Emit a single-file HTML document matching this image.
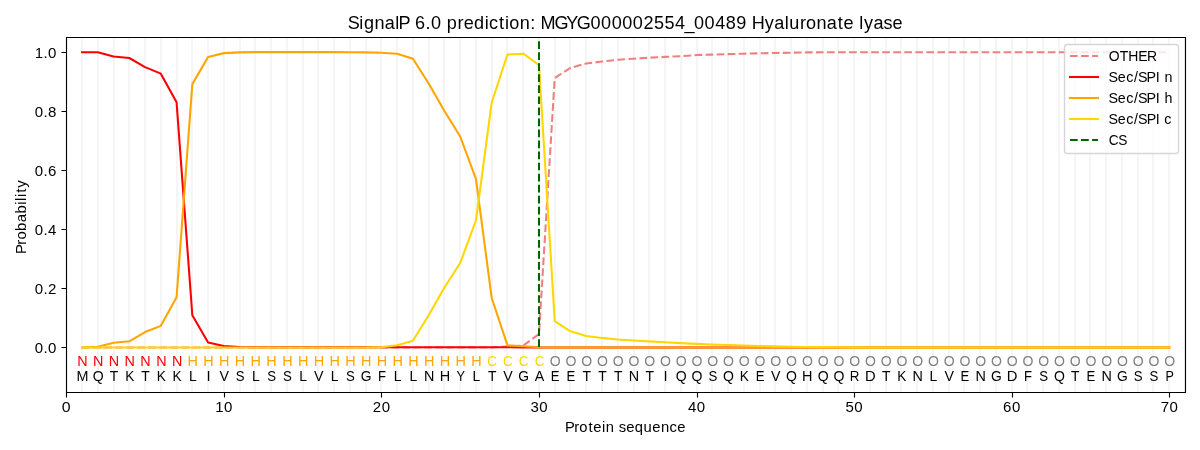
<!DOCTYPE html><html><head><meta charset="utf-8"><title>SignalP 6.0 prediction</title><style>html,body{margin:0;padding:0;background:#fff;overflow:hidden}svg{display:block;will-change:transform}text{font-family:"Liberation Sans",sans-serif}</style></head><body>
<svg width="1200" height="450" viewBox="0 0 1200 450">
<defs><clipPath id="c"><rect x="66.28" y="37.33" width="1118.72" height="354.39"/></clipPath></defs>
<rect width="1200" height="450" fill="#fff"/>
<path d="M66 391.72V37.33M82 391.72V37.33M98 391.72V37.33M114 391.72V37.33M129 391.72V37.33M145 391.72V37.33M161 391.72V37.33M177 391.72V37.33M192 391.72V37.33M208 391.72V37.33M224 391.72V37.33M240 391.72V37.33M255 391.72V37.33M271 391.72V37.33M287 391.72V37.33M303 391.72V37.33M318 391.72V37.33M334 391.72V37.33M350 391.72V37.33M366 391.72V37.33M381 391.72V37.33M397 391.72V37.33M413 391.72V37.33M429 391.72V37.33M444 391.72V37.33M460 391.72V37.33M476 391.72V37.33M492 391.72V37.33M507 391.72V37.33M523 391.72V37.33M539 391.72V37.33M555 391.72V37.33M570 391.72V37.33M586 391.72V37.33M602 391.72V37.33M618 391.72V37.33M634 391.72V37.33M649 391.72V37.33M665 391.72V37.33M681 391.72V37.33M697 391.72V37.33M712 391.72V37.33M728 391.72V37.33M744 391.72V37.33M760 391.72V37.33M775 391.72V37.33M791 391.72V37.33M807 391.72V37.33M823 391.72V37.33M838 391.72V37.33M854 391.72V37.33M870 391.72V37.33M886 391.72V37.33M901 391.72V37.33M917 391.72V37.33M933 391.72V37.33M949 391.72V37.33M964 391.72V37.33M980 391.72V37.33M996 391.72V37.33M1012 391.72V37.33M1027 391.72V37.33M1043 391.72V37.33M1059 391.72V37.33M1075 391.72V37.33M1090 391.72V37.33M1106 391.72V37.33M1122 391.72V37.33M1138 391.72V37.33M1153 391.72V37.33M1169 391.72V37.33M1185 391.72V37.33" clip-path="url(#c)" fill="none" stroke="#f5f5f5" stroke-width="2.08"/>
<path d="M66.5 392.5V397.5M224.5 392.5V397.5M381.5 392.5V397.5M539.5 392.5V397.5M697.5 392.5V397.5M854.5 392.5V397.5M1012.5 392.5V397.5M1169.5 392.5V397.5M66.5 347.5H61.5M66.5 288.5H61.5M66.5 229.5H61.5M66.5 170.5H61.5M66.5 111.5H61.5M66.5 52.5H61.5" stroke="#000" stroke-width="1.11"/>
<text x="66.28" y="412.44" textLength="8.84" lengthAdjust="spacingAndGlyphs" style="font-size:14.17px;text-anchor:middle">0</text>
<text x="-8.1 0.22" y="0" transform="translate(223.84 412.44) scale(1.0602 1)" style="font-size:14.17px">10</text>
<text x="-8.1 0.22" y="0" transform="translate(381.41 412.44) scale(1.0602 1)" style="font-size:14.17px">20</text>
<text x="-8.1 0.22" y="0" transform="translate(538.98 412.44) scale(1.0602 1)" style="font-size:14.17px">30</text>
<text x="-8.1 0.22" y="0" transform="translate(696.54 412.44) scale(1.0602 1)" style="font-size:14.17px">40</text>
<text x="-8.1 0.22" y="0" transform="translate(854.11 412.44) scale(1.0602 1)" style="font-size:14.17px">50</text>
<text x="-8.1 0.22" y="0" transform="translate(1011.68 412.44) scale(1.0602 1)" style="font-size:14.17px">60</text>
<text x="-8.1 0.22" y="0" transform="translate(1169.24 412.44) scale(1.0602 1)" style="font-size:14.17px">70</text>
<text x="-58.17 -49.3 -44.33 -35.68 -30.96 -22.66 -18.97 -10.67 -6.67 0.48 8.79 17.22 25.52 33.82 42.08 49.43" y="0" transform="translate(625.64 432) scale(1.0440 1)" style="font-size:14.17px">Protein sequence</text>
<text x="-20.59 -12.37 -8.1" y="0" transform="translate(56.56 352.92) scale(1.0602 1)" style="font-size:14.17px">0.0</text>
<text x="-20.59 -12.37 -8.1" y="0" transform="translate(56.56 293.86) scale(1.0602 1)" style="font-size:14.17px">0.2</text>
<text x="-20.59 -12.37 -8.1" y="0" transform="translate(56.56 234.79) scale(1.0602 1)" style="font-size:14.17px">0.4</text>
<text x="-20.59 -12.37 -8.1" y="0" transform="translate(56.56 175.73) scale(1.0602 1)" style="font-size:14.17px">0.6</text>
<text x="-20.59 -12.37 -8.1" y="0" transform="translate(56.56 116.66) scale(1.0602 1)" style="font-size:14.17px">0.8</text>
<text x="-20.59 -12.37 -8.1" y="0" transform="translate(56.56 57.6) scale(1.0602 1)" style="font-size:14.17px">1.0</text>
<text x="-35.55 -26.75 -21.84 -13.64 -5.44 2.77 11.14 14.79 18.45 22.46 27.36" y="0" transform="translate(26 216.5) rotate(-90) scale(1.0548 1)" style="font-size:14.17px">Probability</text>
<g clip-path="url(#c)" fill="none" stroke-width="2.08" stroke-linejoin="round">
<path d="M82.03 347.42 L97.79 347.42 L113.55 347.42 L129.3 347.42 L145.06 347.42 L160.82 347.42 L176.57 347.42 L192.33 347.42 L208.09 347.42 L223.84 347.42 L239.6 347.42 L255.36 347.42 L271.11 347.42 L286.87 347.42 L302.63 347.42 L318.38 347.42 L334.14 347.42 L349.9 347.42 L365.65 347.42 L381.41 347.42 L397.17 347.42 L412.92 347.42 L428.68 347.42 L444.44 347.42 L460.19 347.42 L475.95 347.42 L491.71 347.42 L507.46 346.54 L523.22 345.65 L538.98 334.13 L554.73 78 L570.49 67.87 L586.25 63.5 L602 61.55 L617.76 59.81 L633.52 58.71 L649.27 57.71 L665.03 56.91 L680.79 56.2 L696.54 55.05 L712.3 54.61 L728.06 54.11 L743.81 53.69 L759.57 53.31 L775.33 52.99 L791.08 52.69 L806.84 52.39 L822.6 52.31 L838.35 52.25 L854.11 52.22 L869.87 52.19 L885.62 52.19 L901.38 52.19 L917.14 52.19 L932.89 52.19 L948.65 52.19 L964.41 52.19 L980.16 52.19 L995.92 52.19 L1011.68 52.19 L1027.43 52.19 L1043.19 52.19 L1058.95 52.19 L1074.7 52.19 L1090.46 52.19 L1106.22 52.19 L1121.97 52.19 L1137.73 52.19 L1153.49 52.19 L1169.24 52.19" stroke="#f08080" stroke-dasharray="7.71,3.33"/>
<path d="M82.03 52.19 L97.79 52.28 L113.55 56.53 L129.3 58.01 L145.06 67.16 L160.82 73.66 L176.57 102.3 L192.33 315.23 L208.09 342.4 L223.84 345.95 L239.6 346.98 L255.36 347.31 L271.11 347.31 L286.87 347.31 L302.63 347.31 L318.38 347.31 L334.14 347.31 L349.9 347.31 L365.65 347.31 L381.41 347.31 L397.17 347.31 L412.92 347.31 L428.68 347.31 L444.44 347.31 L460.19 347.31 L475.95 347.31 L491.71 347.31 L507.46 347.31 L523.22 347.36 L538.98 347.42 L554.73 347.42 L570.49 347.42 L586.25 347.42 L602 347.42 L617.76 347.42 L633.52 347.42 L649.27 347.42 L665.03 347.42 L680.79 347.42 L696.54 347.42 L712.3 347.42 L728.06 347.42 L743.81 347.42 L759.57 347.42 L775.33 347.42 L791.08 347.42 L806.84 347.42 L822.6 347.42 L838.35 347.42 L854.11 347.42 L869.87 347.42 L885.62 347.42 L901.38 347.42 L917.14 347.42 L932.89 347.42 L948.65 347.42 L964.41 347.42 L980.16 347.42 L995.92 347.42 L1011.68 347.42 L1027.43 347.42 L1043.19 347.42 L1058.95 347.42 L1074.7 347.42 L1090.46 347.42 L1106.22 347.42 L1121.97 347.42 L1137.73 347.42 L1153.49 347.42 L1169.24 347.42" stroke="#f00" stroke-linecap="square"/>
<path d="M82.03 347.42 L97.79 346.83 L113.55 342.79 L129.3 341.31 L145.06 332.07 L160.82 325.86 L176.57 297.22 L192.33 84.11 L208.09 56.91 L223.84 53.13 L239.6 52.39 L255.36 52.1 L271.11 52.1 L286.87 52.1 L302.63 52.1 L318.38 52.1 L334.14 52.16 L349.9 52.31 L365.65 52.39 L381.41 52.69 L397.17 53.69 L412.92 58.8 L428.68 83.49 L444.44 111.02 L460.19 136.5 L475.95 178.79 L491.71 298.02 L507.46 345.36 L523.22 346.24 L538.98 347.28 L554.73 347.42 L570.49 347.42 L586.25 347.42 L602 347.42 L617.76 347.42 L633.52 347.42 L649.27 347.42 L665.03 347.42 L680.79 347.42 L696.54 347.42 L712.3 347.42 L728.06 347.42 L743.81 347.42 L759.57 347.42 L775.33 347.42 L791.08 347.42 L806.84 347.42 L822.6 347.42 L838.35 347.42 L854.11 347.42 L869.87 347.42 L885.62 347.42 L901.38 347.42 L917.14 347.42 L932.89 347.42 L948.65 347.42 L964.41 347.42 L980.16 347.42 L995.92 347.42 L1011.68 347.42 L1027.43 347.42 L1043.19 347.42 L1058.95 347.42 L1074.7 347.42 L1090.46 347.42 L1106.22 347.42 L1121.97 347.42 L1137.73 347.42 L1153.49 347.42 L1169.24 347.42" stroke="#ffa500" stroke-linecap="square"/>
<path d="M82.03 347.42 L97.79 347.42 L113.55 347.42 L129.3 347.42 L145.06 347.42 L160.82 347.42 L176.57 347.42 L192.33 347.42 L208.09 347.42 L223.84 347.42 L239.6 347.42 L255.36 347.42 L271.11 347.42 L286.87 347.42 L302.63 347.42 L318.38 347.42 L334.14 347.42 L349.9 347.42 L365.65 347.42 L381.41 347.13 L397.17 345.33 L412.92 340.69 L428.68 315.32 L444.44 287.5 L460.19 263.02 L475.95 220.49 L491.71 102.51 L507.46 54.49 L523.22 53.69 L538.98 65.01 L554.73 321.02 L570.49 331.3 L586.25 335.91 L602 337.91 L617.76 339.42 L633.52 340.51 L649.27 341.4 L665.03 342.31 L680.79 343.11 L696.54 343.91 L712.3 344.53 L728.06 345.06 L743.81 345.56 L759.57 346.01 L775.33 346.36 L791.08 346.69 L806.84 346.92 L822.6 347.13 L838.35 347.25 L854.11 347.34 L869.87 347.42 L885.62 347.42 L901.38 347.42 L917.14 347.42 L932.89 347.42 L948.65 347.42 L964.41 347.42 L980.16 347.42 L995.92 347.42 L1011.68 347.42 L1027.43 347.42 L1043.19 347.42 L1058.95 347.42 L1074.7 347.42 L1090.46 347.42 L1106.22 347.42 L1121.97 347.42 L1137.73 347.42 L1153.49 347.42 L1169.24 347.42" stroke="#ffd700" stroke-linecap="square"/>
<path d="M539 347V22.57" stroke="#006400" stroke-dasharray="7.71,3.33"/>
</g>
<path d="M66.5 392.5V37.5M1185.5 392.5V37.5M66.5 392.5H1185.5M66.5 37.5H1185.5" fill="none" stroke="#000" stroke-width="1.11" stroke-linecap="square"/>
<text x="82.53" y="380.96" textLength="11.98" lengthAdjust="spacingAndGlyphs" style="font-size:14.17px;text-anchor:middle">M</text>
<text x="82.53" y="366.19" fill="#ff0000" textLength="10.39" lengthAdjust="spacingAndGlyphs" style="font-size:14.17px;text-anchor:middle">N</text>
<text x="98.29" y="380.96" textLength="10.93" lengthAdjust="spacingAndGlyphs" style="font-size:14.17px;text-anchor:middle">Q</text>
<text x="98.29" y="366.19" fill="#ff0000" textLength="10.39" lengthAdjust="spacingAndGlyphs" style="font-size:14.17px;text-anchor:middle">N</text>
<text x="114.05" y="380.96" textLength="8.48" lengthAdjust="spacingAndGlyphs" style="font-size:14.17px;text-anchor:middle">T</text>
<text x="114.05" y="366.19" fill="#ff0000" textLength="10.39" lengthAdjust="spacingAndGlyphs" style="font-size:14.17px;text-anchor:middle">N</text>
<text x="129.8" y="380.96" textLength="9.11" lengthAdjust="spacingAndGlyphs" style="font-size:14.17px;text-anchor:middle">K</text>
<text x="129.8" y="366.19" fill="#ff0000" textLength="10.39" lengthAdjust="spacingAndGlyphs" style="font-size:14.17px;text-anchor:middle">N</text>
<text x="145.56" y="380.96" textLength="8.48" lengthAdjust="spacingAndGlyphs" style="font-size:14.17px;text-anchor:middle">T</text>
<text x="145.56" y="366.19" fill="#ff0000" textLength="10.39" lengthAdjust="spacingAndGlyphs" style="font-size:14.17px;text-anchor:middle">N</text>
<text x="161.32" y="380.96" textLength="9.11" lengthAdjust="spacingAndGlyphs" style="font-size:14.17px;text-anchor:middle">K</text>
<text x="161.32" y="366.19" fill="#ff0000" textLength="10.39" lengthAdjust="spacingAndGlyphs" style="font-size:14.17px;text-anchor:middle">N</text>
<text x="177.07" y="380.96" textLength="9.11" lengthAdjust="spacingAndGlyphs" style="font-size:14.17px;text-anchor:middle">K</text>
<text x="177.07" y="366.19" fill="#ff0000" textLength="10.39" lengthAdjust="spacingAndGlyphs" style="font-size:14.17px;text-anchor:middle">N</text>
<text x="192.83" y="380.96" textLength="7.74" lengthAdjust="spacingAndGlyphs" style="font-size:14.17px;text-anchor:middle">L</text>
<text x="192.83" y="366.19" fill="#ffa500" textLength="10.44" lengthAdjust="spacingAndGlyphs" style="font-size:14.17px;text-anchor:middle">H</text>
<text x="208.59" y="380.96" textLength="4.1" lengthAdjust="spacingAndGlyphs" style="font-size:14.17px;text-anchor:middle">I</text>
<text x="208.59" y="366.19" fill="#ffa500" textLength="10.44" lengthAdjust="spacingAndGlyphs" style="font-size:14.17px;text-anchor:middle">H</text>
<text x="224.34" y="380.96" textLength="9.5" lengthAdjust="spacingAndGlyphs" style="font-size:14.17px;text-anchor:middle">V</text>
<text x="224.34" y="366.19" fill="#ffa500" textLength="10.44" lengthAdjust="spacingAndGlyphs" style="font-size:14.17px;text-anchor:middle">H</text>
<text x="240.1" y="380.96" textLength="8.82" lengthAdjust="spacingAndGlyphs" style="font-size:14.17px;text-anchor:middle">S</text>
<text x="240.1" y="366.19" fill="#ffa500" textLength="10.44" lengthAdjust="spacingAndGlyphs" style="font-size:14.17px;text-anchor:middle">H</text>
<text x="255.86" y="380.96" textLength="7.74" lengthAdjust="spacingAndGlyphs" style="font-size:14.17px;text-anchor:middle">L</text>
<text x="255.86" y="366.19" fill="#ffa500" textLength="10.44" lengthAdjust="spacingAndGlyphs" style="font-size:14.17px;text-anchor:middle">H</text>
<text x="271.61" y="380.96" textLength="8.82" lengthAdjust="spacingAndGlyphs" style="font-size:14.17px;text-anchor:middle">S</text>
<text x="271.61" y="366.19" fill="#ffa500" textLength="10.44" lengthAdjust="spacingAndGlyphs" style="font-size:14.17px;text-anchor:middle">H</text>
<text x="287.37" y="380.96" textLength="8.82" lengthAdjust="spacingAndGlyphs" style="font-size:14.17px;text-anchor:middle">S</text>
<text x="287.37" y="366.19" fill="#ffa500" textLength="10.44" lengthAdjust="spacingAndGlyphs" style="font-size:14.17px;text-anchor:middle">H</text>
<text x="303.13" y="380.96" textLength="7.74" lengthAdjust="spacingAndGlyphs" style="font-size:14.17px;text-anchor:middle">L</text>
<text x="303.13" y="366.19" fill="#ffa500" textLength="10.44" lengthAdjust="spacingAndGlyphs" style="font-size:14.17px;text-anchor:middle">H</text>
<text x="318.88" y="380.96" textLength="9.5" lengthAdjust="spacingAndGlyphs" style="font-size:14.17px;text-anchor:middle">V</text>
<text x="318.88" y="366.19" fill="#ffa500" textLength="10.44" lengthAdjust="spacingAndGlyphs" style="font-size:14.17px;text-anchor:middle">H</text>
<text x="334.64" y="380.96" textLength="7.74" lengthAdjust="spacingAndGlyphs" style="font-size:14.17px;text-anchor:middle">L</text>
<text x="334.64" y="366.19" fill="#ffa500" textLength="10.44" lengthAdjust="spacingAndGlyphs" style="font-size:14.17px;text-anchor:middle">H</text>
<text x="350.4" y="380.96" textLength="8.82" lengthAdjust="spacingAndGlyphs" style="font-size:14.17px;text-anchor:middle">S</text>
<text x="350.4" y="366.19" fill="#ffa500" textLength="10.44" lengthAdjust="spacingAndGlyphs" style="font-size:14.17px;text-anchor:middle">H</text>
<text x="366.15" y="380.96" textLength="10.76" lengthAdjust="spacingAndGlyphs" style="font-size:14.17px;text-anchor:middle">G</text>
<text x="366.15" y="366.19" fill="#ffa500" textLength="10.44" lengthAdjust="spacingAndGlyphs" style="font-size:14.17px;text-anchor:middle">H</text>
<text x="381.91" y="380.96" textLength="7.99" lengthAdjust="spacingAndGlyphs" style="font-size:14.17px;text-anchor:middle">F</text>
<text x="381.91" y="366.19" fill="#ffa500" textLength="10.44" lengthAdjust="spacingAndGlyphs" style="font-size:14.17px;text-anchor:middle">H</text>
<text x="397.67" y="380.96" textLength="7.74" lengthAdjust="spacingAndGlyphs" style="font-size:14.17px;text-anchor:middle">L</text>
<text x="397.67" y="366.19" fill="#ffa500" textLength="10.44" lengthAdjust="spacingAndGlyphs" style="font-size:14.17px;text-anchor:middle">H</text>
<text x="413.42" y="380.96" textLength="7.74" lengthAdjust="spacingAndGlyphs" style="font-size:14.17px;text-anchor:middle">L</text>
<text x="413.42" y="366.19" fill="#ffa500" textLength="10.44" lengthAdjust="spacingAndGlyphs" style="font-size:14.17px;text-anchor:middle">H</text>
<text x="429.18" y="380.96" textLength="10.39" lengthAdjust="spacingAndGlyphs" style="font-size:14.17px;text-anchor:middle">N</text>
<text x="429.18" y="366.19" fill="#ffa500" textLength="10.44" lengthAdjust="spacingAndGlyphs" style="font-size:14.17px;text-anchor:middle">H</text>
<text x="444.94" y="380.96" textLength="10.44" lengthAdjust="spacingAndGlyphs" style="font-size:14.17px;text-anchor:middle">H</text>
<text x="444.94" y="366.19" fill="#ffa500" textLength="10.44" lengthAdjust="spacingAndGlyphs" style="font-size:14.17px;text-anchor:middle">H</text>
<text x="460.69" y="380.96" textLength="8.48" lengthAdjust="spacingAndGlyphs" style="font-size:14.17px;text-anchor:middle">Y</text>
<text x="460.69" y="366.19" fill="#ffa500" textLength="10.44" lengthAdjust="spacingAndGlyphs" style="font-size:14.17px;text-anchor:middle">H</text>
<text x="476.45" y="380.96" textLength="7.74" lengthAdjust="spacingAndGlyphs" style="font-size:14.17px;text-anchor:middle">L</text>
<text x="476.45" y="366.19" fill="#ffa500" textLength="10.44" lengthAdjust="spacingAndGlyphs" style="font-size:14.17px;text-anchor:middle">H</text>
<text x="492.21" y="380.96" textLength="8.48" lengthAdjust="spacingAndGlyphs" style="font-size:14.17px;text-anchor:middle">T</text>
<text x="492.21" y="366.19" fill="#ffd700" textLength="9.7" lengthAdjust="spacingAndGlyphs" style="font-size:14.17px;text-anchor:middle">C</text>
<text x="507.96" y="380.96" textLength="9.5" lengthAdjust="spacingAndGlyphs" style="font-size:14.17px;text-anchor:middle">V</text>
<text x="507.96" y="366.19" fill="#ffd700" textLength="9.7" lengthAdjust="spacingAndGlyphs" style="font-size:14.17px;text-anchor:middle">C</text>
<text x="523.72" y="380.96" textLength="10.76" lengthAdjust="spacingAndGlyphs" style="font-size:14.17px;text-anchor:middle">G</text>
<text x="523.72" y="366.19" fill="#ffd700" textLength="9.7" lengthAdjust="spacingAndGlyphs" style="font-size:14.17px;text-anchor:middle">C</text>
<text x="539.48" y="380.96" textLength="9.5" lengthAdjust="spacingAndGlyphs" style="font-size:14.17px;text-anchor:middle">A</text>
<text x="539.48" y="366.19" fill="#ffd700" textLength="9.7" lengthAdjust="spacingAndGlyphs" style="font-size:14.17px;text-anchor:middle">C</text>
<text x="555.23" y="380.96" textLength="8.78" lengthAdjust="spacingAndGlyphs" style="font-size:14.17px;text-anchor:middle">E</text>
<text x="555.23" y="366.19" fill="#808080" textLength="10.93" lengthAdjust="spacingAndGlyphs" style="font-size:14.17px;text-anchor:middle">O</text>
<text x="570.99" y="380.96" textLength="8.78" lengthAdjust="spacingAndGlyphs" style="font-size:14.17px;text-anchor:middle">E</text>
<text x="570.99" y="366.19" fill="#808080" textLength="10.93" lengthAdjust="spacingAndGlyphs" style="font-size:14.17px;text-anchor:middle">O</text>
<text x="586.75" y="380.96" textLength="8.48" lengthAdjust="spacingAndGlyphs" style="font-size:14.17px;text-anchor:middle">T</text>
<text x="586.75" y="366.19" fill="#808080" textLength="10.93" lengthAdjust="spacingAndGlyphs" style="font-size:14.17px;text-anchor:middle">O</text>
<text x="602.5" y="380.96" textLength="8.48" lengthAdjust="spacingAndGlyphs" style="font-size:14.17px;text-anchor:middle">T</text>
<text x="602.5" y="366.19" fill="#808080" textLength="10.93" lengthAdjust="spacingAndGlyphs" style="font-size:14.17px;text-anchor:middle">O</text>
<text x="618.26" y="380.96" textLength="8.48" lengthAdjust="spacingAndGlyphs" style="font-size:14.17px;text-anchor:middle">T</text>
<text x="618.26" y="366.19" fill="#808080" textLength="10.93" lengthAdjust="spacingAndGlyphs" style="font-size:14.17px;text-anchor:middle">O</text>
<text x="634.02" y="380.96" textLength="10.39" lengthAdjust="spacingAndGlyphs" style="font-size:14.17px;text-anchor:middle">N</text>
<text x="634.02" y="366.19" fill="#808080" textLength="10.93" lengthAdjust="spacingAndGlyphs" style="font-size:14.17px;text-anchor:middle">O</text>
<text x="649.77" y="380.96" textLength="8.48" lengthAdjust="spacingAndGlyphs" style="font-size:14.17px;text-anchor:middle">T</text>
<text x="649.77" y="366.19" fill="#808080" textLength="10.93" lengthAdjust="spacingAndGlyphs" style="font-size:14.17px;text-anchor:middle">O</text>
<text x="665.53" y="380.96" textLength="4.1" lengthAdjust="spacingAndGlyphs" style="font-size:14.17px;text-anchor:middle">I</text>
<text x="665.53" y="366.19" fill="#808080" textLength="10.93" lengthAdjust="spacingAndGlyphs" style="font-size:14.17px;text-anchor:middle">O</text>
<text x="681.29" y="380.96" textLength="10.93" lengthAdjust="spacingAndGlyphs" style="font-size:14.17px;text-anchor:middle">Q</text>
<text x="681.29" y="366.19" fill="#808080" textLength="10.93" lengthAdjust="spacingAndGlyphs" style="font-size:14.17px;text-anchor:middle">O</text>
<text x="697.04" y="380.96" textLength="10.93" lengthAdjust="spacingAndGlyphs" style="font-size:14.17px;text-anchor:middle">Q</text>
<text x="697.04" y="366.19" fill="#808080" textLength="10.93" lengthAdjust="spacingAndGlyphs" style="font-size:14.17px;text-anchor:middle">O</text>
<text x="712.8" y="380.96" textLength="8.82" lengthAdjust="spacingAndGlyphs" style="font-size:14.17px;text-anchor:middle">S</text>
<text x="712.8" y="366.19" fill="#808080" textLength="10.93" lengthAdjust="spacingAndGlyphs" style="font-size:14.17px;text-anchor:middle">O</text>
<text x="728.56" y="380.96" textLength="10.93" lengthAdjust="spacingAndGlyphs" style="font-size:14.17px;text-anchor:middle">Q</text>
<text x="728.56" y="366.19" fill="#808080" textLength="10.93" lengthAdjust="spacingAndGlyphs" style="font-size:14.17px;text-anchor:middle">O</text>
<text x="744.31" y="380.96" textLength="9.11" lengthAdjust="spacingAndGlyphs" style="font-size:14.17px;text-anchor:middle">K</text>
<text x="744.31" y="366.19" fill="#808080" textLength="10.93" lengthAdjust="spacingAndGlyphs" style="font-size:14.17px;text-anchor:middle">O</text>
<text x="760.07" y="380.96" textLength="8.78" lengthAdjust="spacingAndGlyphs" style="font-size:14.17px;text-anchor:middle">E</text>
<text x="760.07" y="366.19" fill="#808080" textLength="10.93" lengthAdjust="spacingAndGlyphs" style="font-size:14.17px;text-anchor:middle">O</text>
<text x="775.83" y="380.96" textLength="9.5" lengthAdjust="spacingAndGlyphs" style="font-size:14.17px;text-anchor:middle">V</text>
<text x="775.83" y="366.19" fill="#808080" textLength="10.93" lengthAdjust="spacingAndGlyphs" style="font-size:14.17px;text-anchor:middle">O</text>
<text x="791.58" y="380.96" textLength="10.93" lengthAdjust="spacingAndGlyphs" style="font-size:14.17px;text-anchor:middle">Q</text>
<text x="791.58" y="366.19" fill="#808080" textLength="10.93" lengthAdjust="spacingAndGlyphs" style="font-size:14.17px;text-anchor:middle">O</text>
<text x="807.34" y="380.96" textLength="10.44" lengthAdjust="spacingAndGlyphs" style="font-size:14.17px;text-anchor:middle">H</text>
<text x="807.34" y="366.19" fill="#808080" textLength="10.93" lengthAdjust="spacingAndGlyphs" style="font-size:14.17px;text-anchor:middle">O</text>
<text x="823.1" y="380.96" textLength="10.93" lengthAdjust="spacingAndGlyphs" style="font-size:14.17px;text-anchor:middle">Q</text>
<text x="823.1" y="366.19" fill="#808080" textLength="10.93" lengthAdjust="spacingAndGlyphs" style="font-size:14.17px;text-anchor:middle">O</text>
<text x="838.85" y="380.96" textLength="10.93" lengthAdjust="spacingAndGlyphs" style="font-size:14.17px;text-anchor:middle">Q</text>
<text x="838.85" y="366.19" fill="#808080" textLength="10.93" lengthAdjust="spacingAndGlyphs" style="font-size:14.17px;text-anchor:middle">O</text>
<text x="854.61" y="380.96" textLength="9.65" lengthAdjust="spacingAndGlyphs" style="font-size:14.17px;text-anchor:middle">R</text>
<text x="854.61" y="366.19" fill="#808080" textLength="10.93" lengthAdjust="spacingAndGlyphs" style="font-size:14.17px;text-anchor:middle">O</text>
<text x="870.37" y="380.96" textLength="10.69" lengthAdjust="spacingAndGlyphs" style="font-size:14.17px;text-anchor:middle">D</text>
<text x="870.37" y="366.19" fill="#808080" textLength="10.93" lengthAdjust="spacingAndGlyphs" style="font-size:14.17px;text-anchor:middle">O</text>
<text x="886.12" y="380.96" textLength="8.48" lengthAdjust="spacingAndGlyphs" style="font-size:14.17px;text-anchor:middle">T</text>
<text x="886.12" y="366.19" fill="#808080" textLength="10.93" lengthAdjust="spacingAndGlyphs" style="font-size:14.17px;text-anchor:middle">O</text>
<text x="901.88" y="380.96" textLength="9.11" lengthAdjust="spacingAndGlyphs" style="font-size:14.17px;text-anchor:middle">K</text>
<text x="901.88" y="366.19" fill="#808080" textLength="10.93" lengthAdjust="spacingAndGlyphs" style="font-size:14.17px;text-anchor:middle">O</text>
<text x="917.64" y="380.96" textLength="10.39" lengthAdjust="spacingAndGlyphs" style="font-size:14.17px;text-anchor:middle">N</text>
<text x="917.64" y="366.19" fill="#808080" textLength="10.93" lengthAdjust="spacingAndGlyphs" style="font-size:14.17px;text-anchor:middle">O</text>
<text x="933.39" y="380.96" textLength="7.74" lengthAdjust="spacingAndGlyphs" style="font-size:14.17px;text-anchor:middle">L</text>
<text x="933.39" y="366.19" fill="#808080" textLength="10.93" lengthAdjust="spacingAndGlyphs" style="font-size:14.17px;text-anchor:middle">O</text>
<text x="949.15" y="380.96" textLength="9.5" lengthAdjust="spacingAndGlyphs" style="font-size:14.17px;text-anchor:middle">V</text>
<text x="949.15" y="366.19" fill="#808080" textLength="10.93" lengthAdjust="spacingAndGlyphs" style="font-size:14.17px;text-anchor:middle">O</text>
<text x="964.91" y="380.96" textLength="8.78" lengthAdjust="spacingAndGlyphs" style="font-size:14.17px;text-anchor:middle">E</text>
<text x="964.91" y="366.19" fill="#808080" textLength="10.93" lengthAdjust="spacingAndGlyphs" style="font-size:14.17px;text-anchor:middle">O</text>
<text x="980.66" y="380.96" textLength="10.39" lengthAdjust="spacingAndGlyphs" style="font-size:14.17px;text-anchor:middle">N</text>
<text x="980.66" y="366.19" fill="#808080" textLength="10.93" lengthAdjust="spacingAndGlyphs" style="font-size:14.17px;text-anchor:middle">O</text>
<text x="996.42" y="380.96" textLength="10.76" lengthAdjust="spacingAndGlyphs" style="font-size:14.17px;text-anchor:middle">G</text>
<text x="996.42" y="366.19" fill="#808080" textLength="10.93" lengthAdjust="spacingAndGlyphs" style="font-size:14.17px;text-anchor:middle">O</text>
<text x="1012.18" y="380.96" textLength="10.69" lengthAdjust="spacingAndGlyphs" style="font-size:14.17px;text-anchor:middle">D</text>
<text x="1012.18" y="366.19" fill="#808080" textLength="10.93" lengthAdjust="spacingAndGlyphs" style="font-size:14.17px;text-anchor:middle">O</text>
<text x="1027.93" y="380.96" textLength="7.99" lengthAdjust="spacingAndGlyphs" style="font-size:14.17px;text-anchor:middle">F</text>
<text x="1027.93" y="366.19" fill="#808080" textLength="10.93" lengthAdjust="spacingAndGlyphs" style="font-size:14.17px;text-anchor:middle">O</text>
<text x="1043.69" y="380.96" textLength="8.82" lengthAdjust="spacingAndGlyphs" style="font-size:14.17px;text-anchor:middle">S</text>
<text x="1043.69" y="366.19" fill="#808080" textLength="10.93" lengthAdjust="spacingAndGlyphs" style="font-size:14.17px;text-anchor:middle">O</text>
<text x="1059.45" y="380.96" textLength="10.93" lengthAdjust="spacingAndGlyphs" style="font-size:14.17px;text-anchor:middle">Q</text>
<text x="1059.45" y="366.19" fill="#808080" textLength="10.93" lengthAdjust="spacingAndGlyphs" style="font-size:14.17px;text-anchor:middle">O</text>
<text x="1075.2" y="380.96" textLength="8.48" lengthAdjust="spacingAndGlyphs" style="font-size:14.17px;text-anchor:middle">T</text>
<text x="1075.2" y="366.19" fill="#808080" textLength="10.93" lengthAdjust="spacingAndGlyphs" style="font-size:14.17px;text-anchor:middle">O</text>
<text x="1090.96" y="380.96" textLength="8.78" lengthAdjust="spacingAndGlyphs" style="font-size:14.17px;text-anchor:middle">E</text>
<text x="1090.96" y="366.19" fill="#808080" textLength="10.93" lengthAdjust="spacingAndGlyphs" style="font-size:14.17px;text-anchor:middle">O</text>
<text x="1106.72" y="380.96" textLength="10.39" lengthAdjust="spacingAndGlyphs" style="font-size:14.17px;text-anchor:middle">N</text>
<text x="1106.72" y="366.19" fill="#808080" textLength="10.93" lengthAdjust="spacingAndGlyphs" style="font-size:14.17px;text-anchor:middle">O</text>
<text x="1122.47" y="380.96" textLength="10.76" lengthAdjust="spacingAndGlyphs" style="font-size:14.17px;text-anchor:middle">G</text>
<text x="1122.47" y="366.19" fill="#808080" textLength="10.93" lengthAdjust="spacingAndGlyphs" style="font-size:14.17px;text-anchor:middle">O</text>
<text x="1138.23" y="380.96" textLength="8.82" lengthAdjust="spacingAndGlyphs" style="font-size:14.17px;text-anchor:middle">S</text>
<text x="1138.23" y="366.19" fill="#808080" textLength="10.93" lengthAdjust="spacingAndGlyphs" style="font-size:14.17px;text-anchor:middle">O</text>
<text x="1153.99" y="380.96" textLength="8.82" lengthAdjust="spacingAndGlyphs" style="font-size:14.17px;text-anchor:middle">S</text>
<text x="1153.99" y="366.19" fill="#808080" textLength="10.93" lengthAdjust="spacingAndGlyphs" style="font-size:14.17px;text-anchor:middle">O</text>
<text x="1169.74" y="380.96" textLength="8.37" lengthAdjust="spacingAndGlyphs" style="font-size:14.17px;text-anchor:middle">P</text>
<text x="1169.74" y="366.19" fill="#808080" textLength="10.93" lengthAdjust="spacingAndGlyphs" style="font-size:14.17px;text-anchor:middle">O</text>
<text x="-271.45 -260.11 -255.65 -245.34 -235.22 -225.03 -221.81 -210.89 -205.6 -195.39 -190.1 -179.89 -174.61 -164.14 -158.14 -147.99 -137.62 -133.36 -123.74 -117.81 -113.53 -103.41 -93.07 -87.75 -83.06 -69.27 -57.89 -47.62 -34.2 -23.86 -13.52 -3.19 7.15 17.49 27.82 38.16 48.49 57.72 66.95 77.29 87.63 97.96 108.3 118.51 123.27 136.15 145.44 155.62 160.08 170.54 176.51 186.63 196.75 207.38 213.1 223.14 228.47 233.08 242.37 252.07 260.81" y="0" transform="translate(625.5 29) scale(1.0233 1)" style="font-size:17.67px">SignalP 6.0 prediction: MGYG000002554_00489 Hyaluronate lyase</text>
<rect x="1064.5" y="44.5" width="114" height="109" rx="2.78" fill="#fff" fill-opacity="0.8" stroke="#ccc" stroke-opacity="0.8" stroke-width="1.39"/>
<path d="M1070 56H1098" fill="none" stroke="#f08080" stroke-width="2.08" stroke-dasharray="7.71,3.33"/>
<text x="0.03 11.04 19.84 29.96 38.9" y="0" transform="translate(1108.75 60.83) scale(0.9864 1)" style="font-size:14.17px">OTHER</text>
<path d="M1070 77H1098" fill="none" stroke="#f00" stroke-width="2.08" stroke-linecap="square"/>
<text x="-0.36 9.02 17.43 25.1 29.03 37.54 46.47 50.68 55.25" y="0" transform="translate(1108.75 81.78) scale(1.0089 1)" style="font-size:14.17px">Sec/SPI n</text>
<path d="M1070 98H1098" fill="none" stroke="#ffa500" stroke-width="2.08" stroke-linecap="square"/>
<text x="-0.36 9.02 17.43 25.1 29.03 37.54 46.47 50.68 55.25" y="0" transform="translate(1108.75 102.72) scale(1.0089 1)" style="font-size:14.17px">Sec/SPI h</text>
<path d="M1070 119H1098" fill="none" stroke="#ffd700" stroke-width="2.08" stroke-linecap="square"/>
<text x="-0.35 9.06 17.49 25.18 29.12 37.66 46.61 50.83 55.24" y="0" transform="translate(1108.75 123.67) scale(1.0060 1)" style="font-size:14.17px">Sec/SPI c</text>
<path d="M1070 140H1098" fill="none" stroke="#006400" stroke-width="2.08" stroke-dasharray="7.71,3.33"/>
<text x="-0.12 9.8" y="0" transform="translate(1108.75 144.61) scale(0.9699 1)" style="font-size:14.17px">CS</text>
</svg></body></html>
